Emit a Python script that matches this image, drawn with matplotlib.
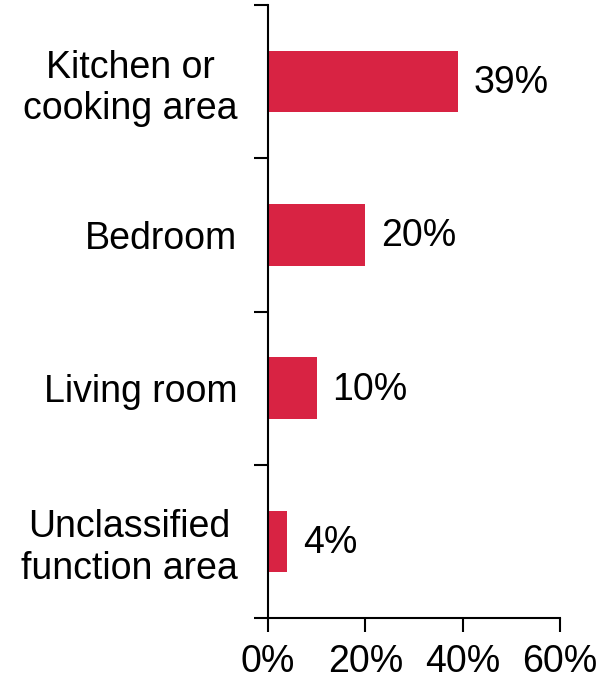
import matplotlib
matplotlib.use("Agg")
import matplotlib.pyplot as plt
from matplotlib.ticker import FixedLocator

plt.rcParams['font.family'] = ['Liberation Sans', 'DejaVu Sans']

categories = ["Kitchen or\ncooking area", "Bedroom", "Living room", "Unclassified\nfunction area"]
shares = [0.39, 0.20, 0.10, 0.04]
value_labels = ["39%", "20%", "10%", "4%"]
x_ticks = [0.0, 0.2, 0.4, 0.6]
x_tick_labels = ["0%", "20%", "40%", "60%"]

bar_color = "#D82343"
fs = 27

fig = plt.figure(figsize=(6.13, 6.80), dpi=100)
ax = fig.add_axes([268 / 613, 1 - 618 / 680, (560 - 268) / 613, (618 - 5) / 680])

ypos = list(range(len(categories)))
ax.barh(ypos, shares, height=0.4, color=bar_color, zorder=2)

for y, v, lab in zip(ypos, shares, value_labels):
    ax.text(v + 0.032, y + 0.01, lab, va="center", ha="left", fontsize=fs, color="black")

ax.set_xlim(0, 0.6)
ax.set_ylim(len(categories) - 0.5, -0.5)

ax.set_xticks(x_ticks)
ax.set_xticklabels(x_tick_labels, fontsize=fs)

# boundary ticks between categories, labels at the category centres
ax.yaxis.set_major_locator(FixedLocator([i - 0.5 for i in range(len(categories) + 1)]))
ax.yaxis.set_major_formatter(plt.NullFormatter())
ax.yaxis.set_minor_locator(FixedLocator(ypos))
ax.set_yticklabels(categories, minor=True, fontsize=fs, multialignment="center",
                   linespacing=1.2)
ax.tick_params(axis="y", which="minor", length=0, pad=22)
ax.tick_params(axis="y", which="major", length=10, width=1.5, direction="out")
ax.tick_params(axis="x", which="major", length=10, width=1.5, direction="out", pad=9)

for side in ("top", "right"):
    ax.spines[side].set_visible(False)
for side in ("left", "bottom"):
    ax.spines[side].set_linewidth(1.5)

fig.savefig("out.png", dpi=100, facecolor="white")
